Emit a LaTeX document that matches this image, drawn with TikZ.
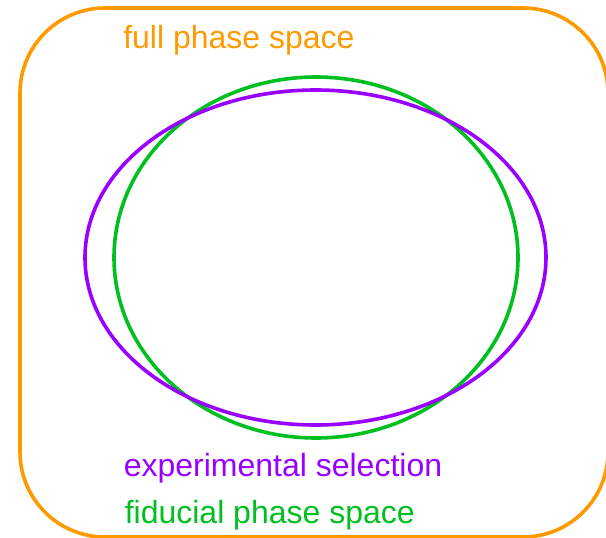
\documentclass[tikz,border=0pt]{standalone}
\usepackage{fontspec}
\setmainfont{Liberation Sans}
\definecolor{orng}{HTML}{FF9900}
\definecolor{purp}{HTML}{9900FF}
\definecolor{grn}{HTML}{00C021}
\begin{document}
\begin{tikzpicture}[x=1pt,y=-1pt,
  lbl/.style={anchor=base west,inner sep=0pt,font=\fontsize{32}{36}\selectfont},
  line width=3.6pt]
\useasboundingbox (0,0) rectangle (606,538);
\draw[orng,rounded corners=85pt] (20,8) rectangle (608,537);
\draw[grn] (316,257.5) ellipse [x radius=202,y radius=180.5];
\draw[purp] (315.5,257.5) ellipse [x radius=230.5,y radius=167.5];
\node[lbl,text=orng] (full) at (121.5,48) {full phase space};
\node[lbl,text=purp] (exp) at (122,476.5) {experimental selection};
\node[lbl,text=grn] (fid) at (123,523.5) {fiducial phase space};
\end{tikzpicture}
\end{document}
